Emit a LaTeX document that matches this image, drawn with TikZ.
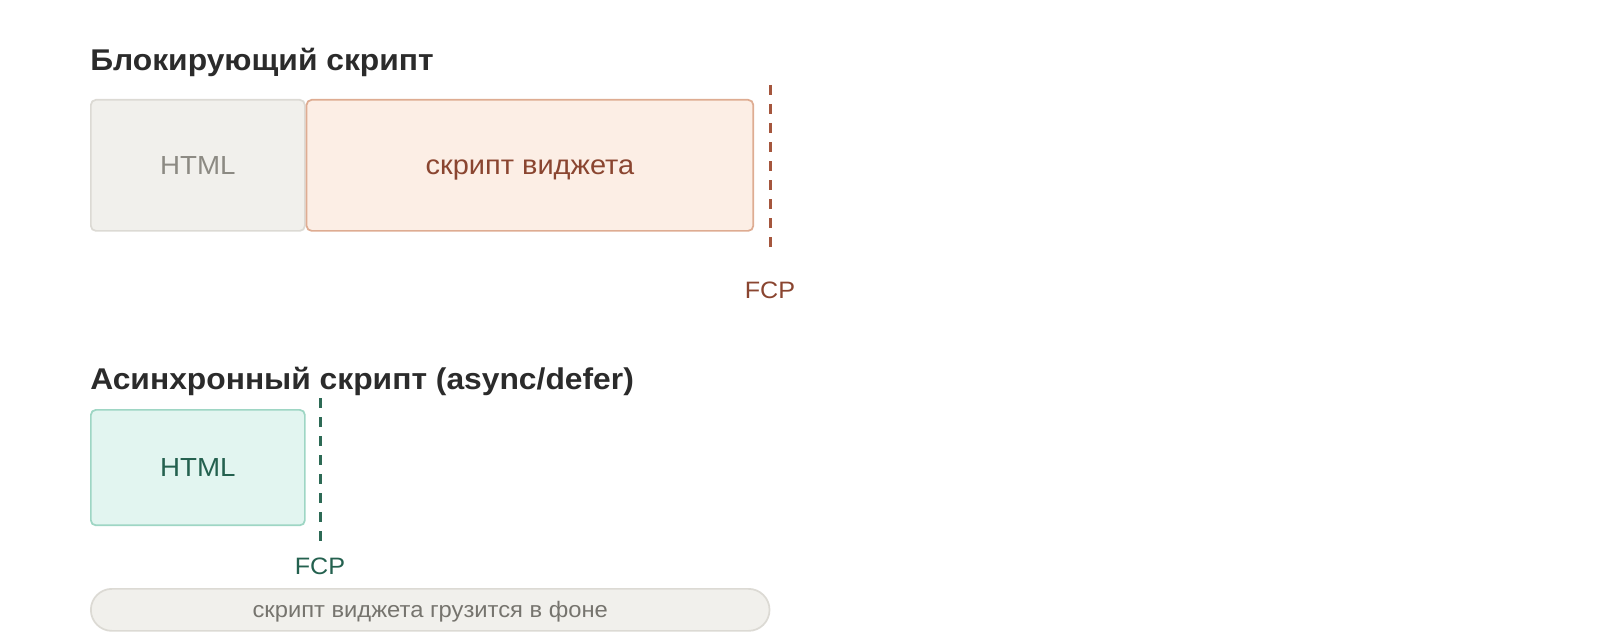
\documentclass[tikz,border=0pt]{standalone}
\usepackage{fontspec}
\setmainfont[FakeStretch=1.06]{Liberation Sans}
\usepackage{xcolor}
\usetikzlibrary{positioning}

\definecolor{titletext}{HTML}{2B2B2B}
\definecolor{htmlfill}{HTML}{F1F0EC}
\definecolor{htmlborder}{HTML}{DCDAD4}
\definecolor{htmltext}{HTML}{8C8A83}
\definecolor{widgetfill}{HTML}{FCEEE5}
\definecolor{widgetborder}{HTML}{DEAC92}
\definecolor{widgettext}{HTML}{8A4530}
\definecolor{fcpred}{HTML}{A5563D}
\definecolor{greenfill}{HTML}{E2F5F0}
\definecolor{greenborder}{HTML}{9ED6C4}
\definecolor{greentext}{HTML}{24614F}
\definecolor{fcpgreen}{HTML}{2D6A55}
\definecolor{pilltext}{HTML}{76746E}

\tikzstyle{title} = [anchor=base west, inner sep=0pt, text=titletext, font=\bfseries\fontsize{22.5}{27}\selectfont]
\tikzstyle{boxes} = [rectangle, rounded corners=3.75pt, line width=1.3pt, minimum width=160.5pt, minimum height=98.25pt, inner sep=0pt, text height=14pt, text depth=0pt, text centered, font=\fontsize{19.6}{23}\selectfont]
\tikzstyle{htmlbox} = [boxes, draw=htmlborder, fill=htmlfill, text=htmltext]
\tikzstyle{widgetbox} = [boxes, draw=widgetborder, fill=widgetfill, text=widgettext, minimum width=335pt, font=\fontsize{20.5}{24}\selectfont]
\tikzstyle{asyncbox} = [boxes, draw=greenborder, fill=greenfill, text=greentext, minimum height=86.6pt]
\tikzstyle{fcpline} = [line width=2.25pt, dash pattern=on 7.5pt off 6.75pt]
\tikzstyle{fcplabel} = [anchor=base, inner sep=0pt, font=\fontsize{17.8}{21}\selectfont]
\tikzstyle{pill} = [rectangle, rounded corners=15.75pt, line width=1.3pt, draw=htmlborder, fill=htmlfill, text=pilltext, minimum width=509pt, minimum height=31.5pt, inner sep=0pt, text height=12pt, text depth=0pt, font=\fontsize{16.8}{20}\selectfont]

\begin{document}
\begin{tikzpicture}[x=0.75pt, y=-0.75pt]
            \useasboundingbox (0,0) rectangle (1600,635);

            % Blocking script
            \node(blocktitle) [title] at (90,70) {Блокирующий скрипт};
            \node(html) [htmlbox, anchor=north west] at (90,99) {HTML};
            \node(widget) [widgetbox, right=0pt of html] {скрипт виджета};
            \coordinate (fcpatop) at (770,85);
            \coordinate (fcpabot) at (770,248);
            \draw[fcpline, draw=fcpred] (fcpatop) -- (fcpabot);
            \node(fcpa) [fcplabel, text=widgettext] at (770,298) {FCP};

            % Async script
            \node(asynctitle) [title] at (90,389) {Асинхронный скрипт (async/defer)};
            \node(asynchtml) [asyncbox, anchor=north west] at (90,409) {HTML};
            \coordinate (fcpbtop) at (320,398);
            \coordinate (fcpbbot) at (320,541);
            \draw[fcpline, draw=fcpgreen] (fcpbtop) -- (fcpbbot);
            \node(fcpb) [fcplabel, text=greentext] at (320,574) {FCP};
            \node(background) [pill, anchor=north west] at (90,588) {скрипт виджета грузится в фоне};
        \end{tikzpicture}
\end{document}
